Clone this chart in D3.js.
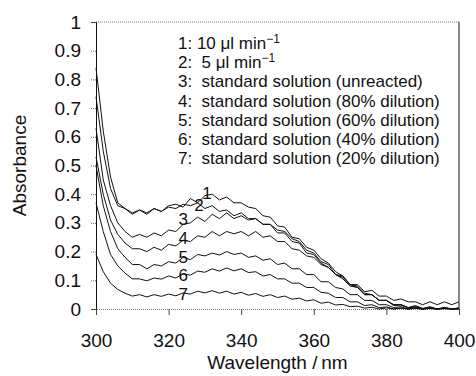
<!DOCTYPE html>
<html>
<head>
<meta charset="utf-8">
<script src="https://cdn.jsdelivr.net/npm/d3@7"></script>
<style>
  body { margin: 0; background: #fff; }
  svg { display: block; font-family: "Liberation Sans", Arial, sans-serif; }
</style>
</head>
<body>
<figure id="spectra" style="margin:0"></figure>
<script>
// wavelength grid (nm)
const wavelengths = [300, 302, 304, 306, 308, 310, 312, 314, 316, 318,
  320, 322, 324, 326, 328, 330, 332, 334, 336, 338,
  340, 342, 344, 346, 348, 350, 352, 354, 356, 358,
  360, 362, 364, 366, 368, 370, 372, 374, 376, 378,
  380, 382, 384, 386, 388, 390, 392, 394, 396, 398, 400];

// absorbance
const flow10 = [0.84, 0.62, 0.46, 0.37, 0.35, 0.33, 0.345, 0.33, 0.35, 0.34,
  0.36, 0.365, 0.355, 0.385, 0.37, 0.395, 0.40, 0.38, 0.39, 0.37,
  0.37, 0.355, 0.35, 0.325, 0.32, 0.29, 0.285, 0.25, 0.245, 0.215,
  0.205, 0.175, 0.16, 0.13, 0.115, 0.085, 0.085, 0.06, 0.065, 0.045,
  0.045, 0.03, 0.035, 0.025, 0.025, 0.015, 0.025, 0.015, 0.025, 0.015, 0.025];
const flow5 = [0.74, 0.55, 0.42, 0.36, 0.35, 0.335, 0.345, 0.335, 0.35, 0.34,
  0.355, 0.35, 0.365, 0.36, 0.37, 0.35, 0.36, 0.34, 0.345, 0.325,
  0.335, 0.315, 0.315, 0.295, 0.295, 0.265, 0.265, 0.235, 0.23, 0.195,
  0.19, 0.16, 0.145, 0.12, 0.105, 0.08, 0.075, 0.05, 0.05, 0.03,
  0.03, 0.015, 0.015, 0.005, 0.012, 0.002, 0.008, 0.0, 0.006, 0.0, 0.004];
const std100 = [0.63, 0.45, 0.36, 0.3, 0.27, 0.25, 0.26, 0.25, 0.265, 0.255,
  0.275, 0.27, 0.295, 0.3, 0.32, 0.305, 0.33, 0.315, 0.335, 0.315,
  0.325, 0.31, 0.315, 0.295, 0.295, 0.275, 0.27, 0.245, 0.235, 0.205,
  0.195, 0.165, 0.155, 0.12, 0.11, 0.085, 0.075, 0.05, 0.05, 0.03,
  0.03, 0.012, 0.014, 0.004, 0.008, 0.0, 0.005, 0.0, 0.004, 0.0, 0.003];
const std80 = [0.53, 0.40, 0.31, 0.26, 0.23, 0.21, 0.21, 0.2, 0.215, 0.205,
  0.225, 0.22, 0.24, 0.235, 0.255, 0.25, 0.27, 0.255, 0.27, 0.262,
  0.27, 0.255, 0.27, 0.25, 0.255, 0.235, 0.235, 0.21, 0.205, 0.185,
  0.18, 0.155, 0.145, 0.12, 0.115, 0.085, 0.08, 0.055, 0.05, 0.03,
  0.03, 0.015, 0.015, 0.005, 0.008, 0.0, 0.005, 0.0, 0.004, 0.0, 0.003];
const std60 = [0.50, 0.36, 0.27, 0.21, 0.18, 0.155, 0.155, 0.14, 0.155, 0.15,
  0.165, 0.16, 0.18, 0.172, 0.19, 0.185, 0.195, 0.188, 0.2, 0.19,
  0.195, 0.18, 0.185, 0.17, 0.175, 0.155, 0.16, 0.14, 0.14, 0.12,
  0.12, 0.095, 0.095, 0.075, 0.07, 0.05, 0.05, 0.03, 0.03, 0.015,
  0.015, 0.005, 0.008, 0.0, 0.005, 0.0, 0.004, 0.0, 0.003, 0.0, 0.002];
const std40 = [0.37, 0.27, 0.19, 0.15, 0.125, 0.105, 0.105, 0.098, 0.108, 0.104,
  0.115, 0.108, 0.122, 0.118, 0.132, 0.128, 0.14, 0.132, 0.143, 0.133,
  0.14, 0.127, 0.13, 0.115, 0.12, 0.105, 0.105, 0.09, 0.09, 0.075,
  0.075, 0.058, 0.055, 0.04, 0.04, 0.025, 0.025, 0.012, 0.015, 0.005,
  0.007, 0.0, 0.004, 0.0, 0.003, 0.0, 0.002, 0.0, 0.002, 0.0, 0.0];
const std20 = [0.19, 0.13, 0.09, 0.068, 0.055, 0.045, 0.05, 0.042, 0.05, 0.044,
  0.052, 0.046, 0.056, 0.052, 0.062, 0.056, 0.064, 0.055, 0.062, 0.052,
  0.058, 0.048, 0.054, 0.044, 0.05, 0.04, 0.045, 0.034, 0.038, 0.028,
  0.032, 0.02, 0.024, 0.014, 0.016, 0.008, 0.01, 0.003, 0.006, 0.0,
  0.004, 0.0, 0.003, 0.0, 0.002, 0.0, 0.002, 0.0, 0.001, 0.0, 0.0];

const seriesList = [flow10, flow5, std100, std80, std60, std40, std20];
const curveTags = ["1", "2", "3", "4", "5", "6", "7"];
const tagWl = [330.6, 328.4, 324, 324, 324, 324, 324];
const tagAbs = [0.404, 0.362, 0.314, 0.247, 0.181, 0.118, 0.052];

const legendHead = ["1: 10 \u03bcl min", "2:  5 \u03bcl min", "3:  standard solution (unreacted)",
  "4:  standard solution (80% dilution)", "5:  standard solution (60% dilution)",
  "6:  standard solution (40% dilution)", "7:  standard solution (20% dilution)"];
const legendSup = ["\u22121", "\u22121", "", "", "", "", ""];

const xTicks = [300, 320, 340, 360, 380, 400];
const yTicks = [0, 0.1, 0.2, 0.3, 0.4, 0.5, 0.6, 0.7, 0.8, 0.9, 1];

const margin = { top: 22, right: 17, bottom: 67, left: 96 };
const W = 476, H = 376;
const width = W - margin.left - margin.right;
const height = H - margin.top - margin.bottom;

const svg = d3.select("figure#spectra").append("svg")
  .attr("width", W).attr("height", H);
const g = svg.append("g")
  .attr("transform", "translate(" + margin.left + "," + margin.top + ")");

const xScale = d3.scaleLinear().domain([300, 400]).range([0, width]);
const yScale = d3.scaleLinear().domain([0, 1]).range([height, 0]);

// frame: dotted top and bottom, solid right
g.append("line").attr("x1", 0).attr("x2", width).attr("y1", 0).attr("y2", 0)
  .attr("stroke", "#777").style("stroke-dasharray", "1,1");
g.append("line").attr("x1", width).attr("x2", width).attr("y1", 0).attr("y2", height)
  .attr("stroke", "#111");

// y axis
const yAxis = g.append("g")
  .call(d3.axisLeft(yScale).tickValues(yTicks).tickSize(5).tickPadding(10)
    .tickFormat((d) => d3.format("~g")(d)));
yAxis.select(".domain").attr("stroke", "#111");
yAxis.selectAll(".tick line").attr("stroke", "#666").style("stroke-dasharray", "1,1");
yAxis.selectAll(".tick text").attr("font-size", 19).attr("fill", "#111")
  .attr("font-family", "Liberation Sans, Arial, sans-serif");

// x axis
const xAxis = g.append("g")
  .attr("transform", "translate(0," + height + ")")
  .call(d3.axisBottom(xScale).tickValues(xTicks).tickSize(6).tickPadding(19));
xAxis.select(".domain").attr("stroke", "#777").style("stroke-dasharray", "1,1");
xAxis.selectAll(".tick line").attr("stroke", "#444");
xAxis.selectAll(".tick text").attr("font-size", 19).attr("fill", "#111")
  .attr("font-family", "Liberation Sans, Arial, sans-serif");

// spectra
const line = d3.line()
  .x((d, i) => xScale(wavelengths[i]))
  .y((d) => yScale(d));
g.selectAll(".spectrum")
  .data(seriesList)
  .join("path")
  .attr("class", "spectrum")
  .attr("fill", "none")
  .attr("stroke", "#111")
  .attr("stroke-width", 1)
  .attr("stroke-linejoin", "round")
  .attr("d", line);

// curve numbers
g.selectAll(".tag")
  .data(curveTags)
  .join("text")
  .attr("x", (d, i) => xScale(tagWl[i]))
  .attr("y", (d, i) => yScale(tagAbs[i]))
  .attr("dy", "0.35em")
  .attr("text-anchor", "middle")
  .attr("font-size", 17)
  .attr("fill", "#111")
  .text((d) => d);

// legend
const legend = g.append("g").attr("transform", "translate(82,27)");
legendHead.forEach((t, i) => {
  const txt = legend.append("text")
    .attr("y", i * 19.2)
    .attr("font-size", 17)
    .attr("fill", "#111")
    .style("white-space", "pre");
  txt.append("tspan").text(t);
  if (legendSup[i]) {
    txt.append("tspan").attr("dy", -6).attr("font-size", 12).text(legendSup[i]);
  }
});

// axis titles
svg.append("text")
  .attr("x", margin.left + width / 2)
  .attr("y", 369)
  .attr("text-anchor", "middle")
  .attr("font-size", 19)
  .attr("fill", "#111")
  .style("white-space", "pre")
  .text("Wavelength /\u2009nm");

svg.append("text")
  .attr("transform", "translate(26," + (margin.top + height / 2) + ") rotate(-90)")
  .attr("text-anchor", "middle")
  .attr("font-size", 19)
  .attr("fill", "#111")
  .text("Absorbance");
</script>
</body>
</html>
